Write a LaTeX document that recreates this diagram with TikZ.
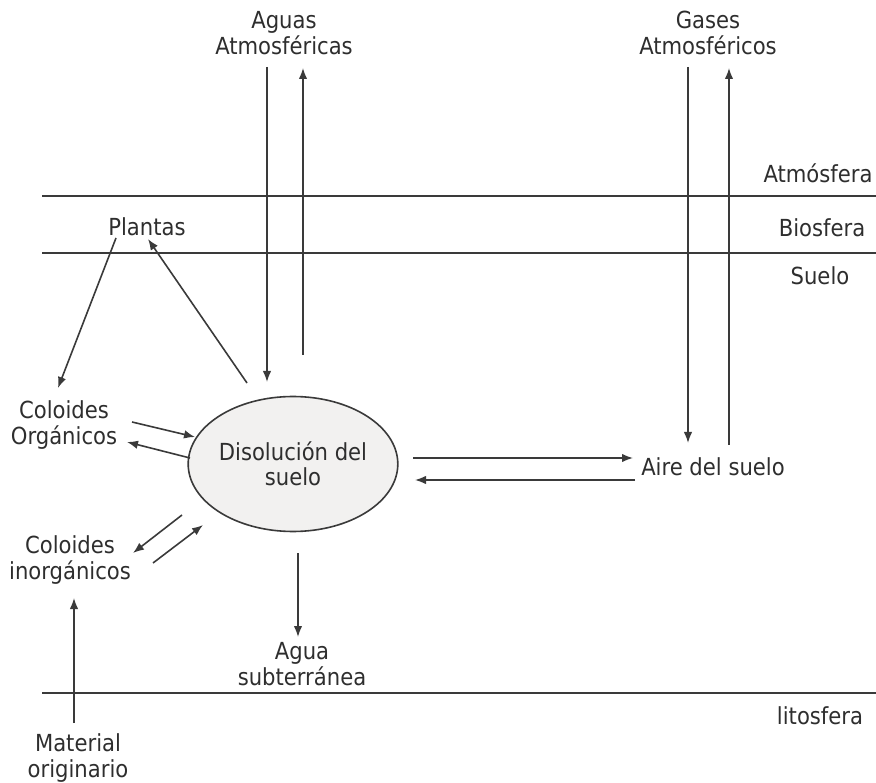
\documentclass[tikz,border=0pt]{standalone}
\usepackage{fontspec}
\setmainfont{DejaVu Sans Condensed}
\usetikzlibrary{shapes.geometric,arrows.meta,calc}
\definecolor{ink}{HTML}{2E2E2E}
\definecolor{linegray}{HTML}{3A3A3A}
\definecolor{solfill}{HTML}{F2F1F0}
\begin{document}
\begin{tikzpicture}[x=1pt,y=-1pt,
  lbl/.style={text=ink,font=\fontsize{23.5}{25.5}\selectfont,align=center,inner sep=0pt},
  arr/.style={draw=linegray,line width=1.6pt,-{Latex[length=11pt,width=8.5pt]}},
  layer/.style={draw=linegray,line width=1.7pt}]
\useasboundingbox (0,0) rectangle (876,783);

% layer boundaries
\coordinate (atmL) at (42,196);  \coordinate (atmR) at (876,196);
\coordinate (bioL) at (42,253);  \coordinate (bioR) at (876,253);
\coordinate (litL) at (42,693);  \coordinate (litR) at (876,693);
\draw[layer] (atmL) -- (atmR);
\draw[layer] (bioL) -- (bioR);
\draw[layer] (litL) -- (litR);

% layer names
\node[lbl] (atm)   at (818,173) {Atmósfera};
\node[lbl] (bio)   at (822,228) {Biosfera};
\node[lbl] (sue)   at (820,276) {Suelo};
\node[lbl] (lito)  at (820,716) {litosfera};

% compartments
\node[lbl] (aguas)    at (284,33)  {Aguas\\Atmosféricas};
\node[lbl] (gases)    at (708,33)  {Gases\\Atmosféricos};
\node[lbl] (plantas)  at (147,227) {Plantas};
\node[lbl] (colorg)   at (64,425)  {Coloides\\Orgánicos};
\node[lbl] (colinorg) at (70,560)  {Coloides\\inorgánicos};
\node[lbl,draw=linegray,line width=1.6pt,fill=solfill,ellipse,
      minimum width=200pt,minimum height=135pt] (disol) at (293,464)
      {Disolución del\\suelo};
\node[lbl] (aire)     at (713,467) {Aire del suelo};
\node[lbl] (aguasub)  at (302,664) {Agua\\subterránea};
\node[lbl] (material) at (78,758)  {Material\\originario};

% exchanges
\draw[arr] ($(aguas.center)+(-17,34)$) -- ($(disol.center)+(-26,-82)$);
\draw[arr] ($(disol.center)+(10,-109)$) -- ($(aguas.center)+(19,35)$);
\draw[arr] ($(gases.center)+(-20,34)$) -- ($(aire.center)+(-25,-24)$);
\draw[arr] ($(aire.center)+(16,-22)$) -- ($(gases.center)+(21,35)$);
\draw[arr] ($(plantas.center)+(-31,11)$) -- ($(colorg.center)+(-6,-37)$);
\draw[arr] ($(disol.center)+(-46,-81)$) -- ($(plantas.center)+(1,12)$);
\draw[arr] ($(colorg.center)+(68,-3)$) -- ($(disol.center)+(-98,-27)$);
\draw[arr] ($(disol.center)+(-103,-6)$) -- ($(colorg.center)+(63,17)$);
\draw[arr] ($(disol.center)+(-111,51)$) -- ($(colinorg.center)+(63,-7)$);
\draw[arr] ($(colinorg.center)+(83,3)$) -- ($(disol.center)+(-90,61)$);
\draw[arr] ($(disol.center)+(5,89)$) -- ($(aguasub.center)+(-4,-27)$);
\draw[arr] ($(material.center)+(-4,-35)$) -- ($(colinorg.center)+(4,38)$);
\draw[arr] ($(disol.center)+(120,-6)$) -- ($(aire.center)+(-80,-9)$);
\draw[arr] ($(aire.center)+(-78,13)$) -- ($(disol.center)+(122,16)$);
\end{tikzpicture}
\end{document}
